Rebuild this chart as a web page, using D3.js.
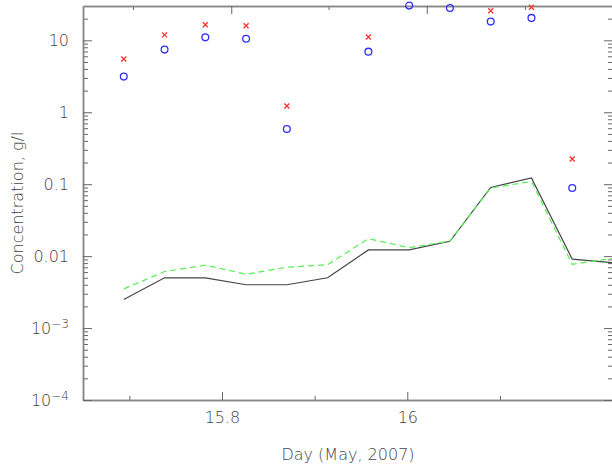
<!DOCTYPE html>
<meta charset="utf-8">
<script src="https://cdn.jsdelivr.net/npm/d3@7"></script>
<style>
  body { margin: 0; background: #fff; }
  svg { font-family: "DejaVu Sans", sans-serif; font-weight: 200; }
  .axis path { stroke: #888; stroke-width: 1.5; }
  .axis line { stroke: #666; }
  .axis text { fill: #444; font-size: 16px; font-family: "DejaVu Sans", sans-serif; }
</style>
<svg width="612" height="468"></svg>
<script>
// sample times (day of May 2007) and concentrations, g/l
var days    = [15.694, 15.738, 15.782, 15.826, 15.870, 15.914, 15.958, 16.002, 16.046, 16.090, 16.134, 16.178, 16.222];
var modelA  = [0.0025, 0.0050, 0.0050, 0.0040, 0.0040, 0.0050, 0.0122, 0.0122, 0.0161, 0.090, 0.122, 0.0091, 0.0081];
var modelB  = [0.0035, 0.0061, 0.0075, 0.0056, 0.0070, 0.0076, 0.0175, 0.0131, 0.0162, 0.0885, 0.109, 0.0077, 0.0093];
var crosses = [5.5, 11.9, 16.5, 15.9, 1.22, null, 11.1, null, null, 25.7, 28.8, 0.224, null];
var circles = [3.13, 7.43, 11.0, 10.5, 0.586, null, 6.96, 30.4, 28.2, 18.2, 20.5, 0.0885, null];

var xMajor = [15.8, 16.0], xMinor = [15.7, 15.9, 16.1];
var topMajor = [15.810, 16.021], topMinor = [15.704, 15.915, 16.127];
var yMajor = [1e-4, 1e-3, 1e-2, 1e-1, 1, 10];
var yLabels = ["10|-4", "10|-3", "0.01", "0.1", "1", "10"];
var yMinor = [];
[1e-4, 1e-3, 1e-2, 1e-1, 1, 10].forEach(function(d) {
    for (var k = 2; k <= 9; k++) if (d * k < 30) yMinor.push(d * k);
});

var svg = d3.select("svg"),
    pL = 83, pR = 613, pT = 6, pB = 400;

var x = d3.scaleLinear().domain([15.65, 16.222]).range([pL, pR]),
    y = d3.scaleLog().domain([1e-4, 30]).range([pB, pT]);

svg.append("clipPath").attr("id", "clip").append("rect")
    .attr("x", pL).attr("y", pT).attr("width", pR - pL).attr("height", pB - pT);

// axes: ticks point inward on all four sides
function axisPair(gen, scale, major, minor, big, small, transform, fmt, pad) {
    svg.append("g").attr("class", "axis").attr("transform", transform)
        .call(gen(scale).tickValues(minor).tickSizeInner(-small).tickSizeOuter(0).tickFormat(""));
    return svg.append("g").attr("class", "axis").attr("transform", transform)
        .call(gen(scale).tickValues(major).tickSizeInner(-big).tickSizeOuter(0).tickPadding(pad).tickFormat(fmt));
}
axisPair(d3.axisBottom, x, xMajor, xMinor, 8, 4, "translate(0," + pB + ")",
    function(d) { return String(+d.toFixed(1)); }, 12);
axisPair(d3.axisTop, x, topMajor, topMinor, 8, 4, "translate(0," + pT + ")", "", 0);
var leftAxis = axisPair(d3.axisLeft, y, yMajor, yMinor, 9, 5, "translate(" + pL + ",0)",
    function(d, i) { return yLabels[i]; }, 14);
axisPair(d3.axisRight, y, yMajor, yMinor, 9, 5, "translate(" + pR + ",0)", "", 0);

leftAxis.selectAll("text").each(function() {
    var t = d3.select(this), s = t.text();
    if (s.indexOf("|") < 0) return;
    var parts = s.split("|");
    t.text(parts[0]);
    t.append("tspan").attr("dy", "-0.5em").style("font-size", "12px").text("\u2212" + parts[1].slice(1));
});

// model curves
var line = function(vals) {
    return d3.line().x(function(d, i) { return x(days[i]); }).y(function(d) { return y(d); })(vals);
};
var plot = svg.append("g").attr("clip-path", "url(#clip)");
plot.append("path").attr("d", line(modelA))
    .attr("fill", "none").attr("stroke", "#444").attr("stroke-width", 1.2);
plot.append("path").attr("d", line(modelB))
    .attr("fill", "none").attr("stroke", "#55ee55").attr("stroke-width", 1.2).attr("stroke-dasharray", "6,4");

// observations
var obs = days.map(function(d, i) { return { day: d, c: crosses[i], o: circles[i] }; });
svg.selectAll(".cross").data(obs.filter(function(d) { return d.c != null; })).enter()
    .append("path").attr("class", "cross")
    .attr("transform", function(d) { return "translate(" + x(d.day) + "," + y(d.c) + ")"; })
    .attr("d", "M-2.5,-2.5L2.5,2.5M-2.5,2.5L2.5,-2.5")
    .attr("stroke", "#ff3030").attr("stroke-width", 1.3).attr("fill", "none");
svg.selectAll(".circ").data(obs.filter(function(d) { return d.o != null; })).enter()
    .append("circle").attr("class", "circ")
    .attr("cx", function(d) { return x(d.day); }).attr("cy", function(d) { return y(d.o); })
    .attr("r", 3.4).attr("fill", "none").attr("stroke", "#3030ff").attr("stroke-width", 1.3);

// titles
svg.append("text").attr("x", 348).attr("y", 460).attr("text-anchor", "middle")
    .style("font-size", "16px").attr("fill", "#444").text("Day (May, 2007)");
svg.append("text").attr("transform", "translate(23,203) rotate(-90)").attr("text-anchor", "middle")
    .style("font-size", "16px").attr("fill", "#444").text("Concentration, g/l");
</script>
